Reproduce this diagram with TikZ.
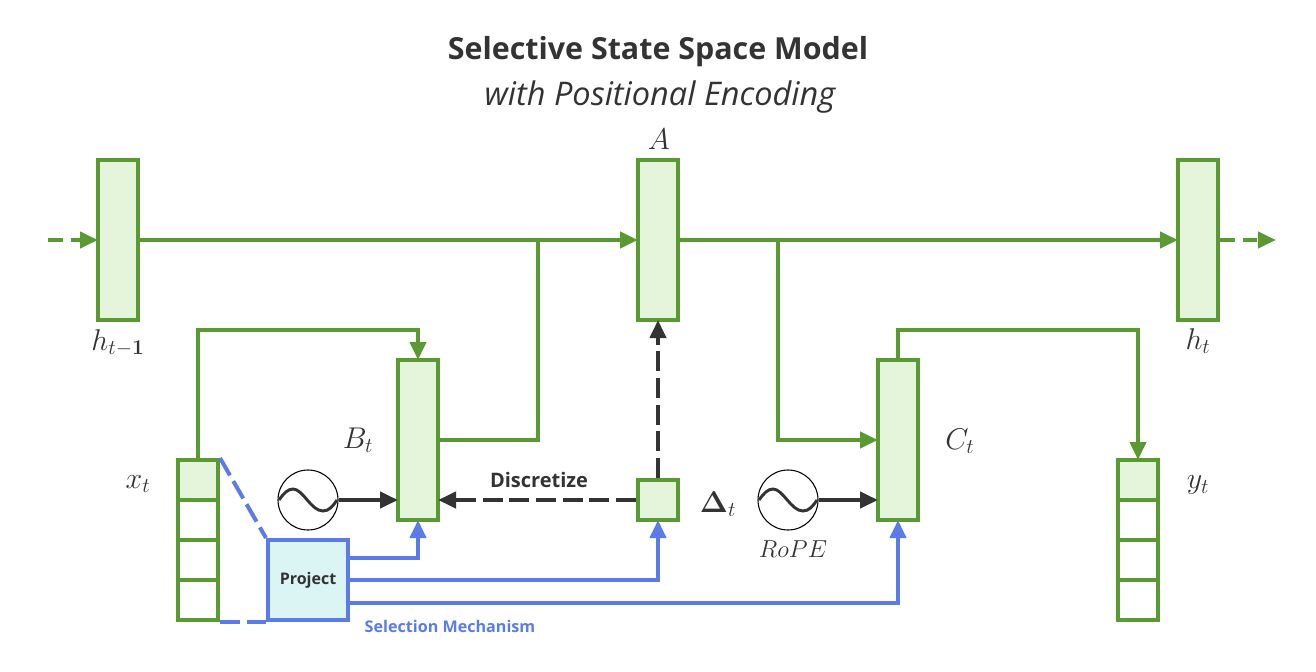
\RequirePackage{fix-cm}
\documentclass[tikz,border=0pt]{standalone}
\usepackage{amsmath}
\usepackage[no-math]{fontspec}
\setmainfont{Open Sans}
\usetikzlibrary{arrows.meta}

\definecolor{stategreen}{HTML}{5A9A32}
\definecolor{statefill}{HTML}{E5F5DC}
\definecolor{selblue}{HTML}{5B7BEA}
\definecolor{projfill}{HTML}{DBF4F4}
\definecolor{inkgray}{HTML}{333333}

\tikzset{
  statebox/.style={rectangle,draw=stategreen,fill=statefill,line width=3pt,minimum width=30pt,inner sep=0pt},
  tallbox/.style={statebox,minimum height=120pt},
  cellbox/.style={statebox,minimum height=30pt},
  emptycell/.style={cellbox,fill=white},
  projbox/.style={rectangle,draw=selblue,fill=projfill,line width=3pt,minimum width=60pt,minimum height=60pt,inner sep=0pt,
    text=inkgray,font=\fontsize{12}{14}\selectfont\bfseries},
  oscnode/.style={circle,draw=black,fill=white,line width=0.8pt,minimum size=45pt,inner sep=0pt},
  mathlabel/.style={text=inkgray,font=\fontsize{22.5}{25}\selectfont},
  greenline/.style={draw=stategreen,line width=3pt},
  greenarrow/.style={greenline,-{Triangle[length=13.5pt,width=12pt]},shorten >=-1.5pt},
  greendash/.style={greenarrow,dash pattern=on 11pt off 6pt},
  bluearrow/.style={draw=selblue,line width=3pt,-{Triangle[length=13.5pt,width=12pt]},shorten >=-1.5pt},
  bluedash/.style={draw=selblue,line width=3pt,dash pattern=on 15pt off 5pt},
  blackarrow/.style={draw=inkgray,line width=3pt,-{Triangle[length=13.5pt,width=12pt]},shorten >=-1.5pt},
  blackdash/.style={blackarrow,dash pattern=on 15pt off 5pt},
  wave/.style={draw=inkgray,line width=2.2pt},
}

\newcommand{\oscwave}[1]{\draw[wave,shift={(#1)}] (-29,0) .. controls (-24,-7) and (-20,-11) .. (-15,-11) .. controls (-5,-11) and (3,11) .. (15,11) .. controls (21,11) and (25,6) .. (29,0);}

\begin{document}
\begin{tikzpicture}[x=0.75pt,y=-0.75pt]
\useasboundingbox (0,0) rectangle (1316,671);

\node[text=inkgray,font=\fontsize{22.8}{26}\selectfont\bfseries] (title) at (658,52) {Selective State Space Model};
\node[text=inkgray,font=\fontsize{24.4}{28}\selectfont\itshape] (subtitle) at (660,97) {with Positional Encoding};

% hidden states
\node[tallbox] (hprev) at (118,240) {};
\node[tallbox] (A) at (658,240) {};
\node[tallbox] (hnext) at (1198,240) {};
\node[tallbox] (B) at (418,440) {};
\node[tallbox] (C) at (898,440) {};
\node[cellbox] (delta) at (658,500) {};

% input and output cells
\node[cellbox] (x1) at (198,480) {};
\node[cellbox] (y1) at (1138,480) {};
\foreach \i/\cy in {2/520,3/560,4/600} {
  \node[emptycell] (x\i) at (198,\cy) {};
  \node[emptycell] (y\i) at (1138,\cy) {};
}

\node[projbox] (project) at (308,580) {\raisebox{-1pt}{Project}};
\node[oscnode] (oscB) at (308,500) {};
\node[oscnode] (oscC) at (788,500) {};
\oscwave{oscB}
\oscwave{oscC}

\coordinate (inStart) at (48,240);
\coordinate (outEnd) at (1274,240);
\coordinate (splitB) at (538,240);
\coordinate (splitC) at (778,240);
\coordinate (topB) at (418,330);
\coordinate (topC) at (1138,330);

% state path
\draw[greendash] (inStart) -- (hprev.west);
\draw[greenarrow] (hprev.east) -- (A.west);
\draw[greenarrow] (A.east) -- (hnext.west);
\draw[greendash] (hnext.east) -- (outEnd);
\draw[greenline] (B.east) -| (splitB);
\draw[greenarrow] (splitC) |- (C.west);
\draw[greenarrow] (x1.north) |- (topB) -- (B.north);
\draw[greenarrow] (C.north) |- (topC) -- (y1.north);

% selection mechanism
\draw[bluedash] (x1.north east) -- (project.north west);
\draw[bluedash] (x4.south east) -- (project.south west);
\draw[bluearrow] ([yshift=16.5pt]project.east) -| (B.south);
\draw[bluearrow] (project.east) -| (delta.south);
\draw[bluearrow] ([yshift=-17pt]project.east) -| (C.south);

% discretize
\draw[blackarrow] (oscB.east) -- (oscB.east -| B.west);
\draw[blackarrow] (oscC.east) -- (oscC.east -| C.west);
\draw[blackdash] (delta.west) -- (delta.west -| B.east);
\draw[blackdash] (delta.north) -- (A.south);

\node[text=inkgray,font=\fontsize{15}{18}\selectfont\bfseries] (discretize) at (539,480) {Discretize};
\node[text=selblue,font=\fontsize{12.1}{14}\selectfont\bfseries] (selection) at (450,626) {Selection Mechanism};

\node[mathlabel] (labelA) at (659,139) {$A$};
\node[mathlabel] (labelhprev) at (118,343) {$h_{t-\mathbf{1}}$};
\node[mathlabel] (labelhnext) at (1198,341) {$h_t$};
\node[mathlabel] (labelB) at (358,440) {$B_t$};
\node[mathlabel] (labelC) at (960,441) {$C_t$};
\node[mathlabel] (labelx) at (138,484) {$x_t$};
\node[mathlabel] (labely) at (1198,485) {$y_t$};
\node[mathlabel] (labeldelta) at (718,504) {$\mathbf{\Delta}_t$};
\node[mathlabel,font=\fontsize{18.4}{21}\selectfont] (labelrope) at (793,549) {$RoPE$};

\end{tikzpicture}
\end{document}
